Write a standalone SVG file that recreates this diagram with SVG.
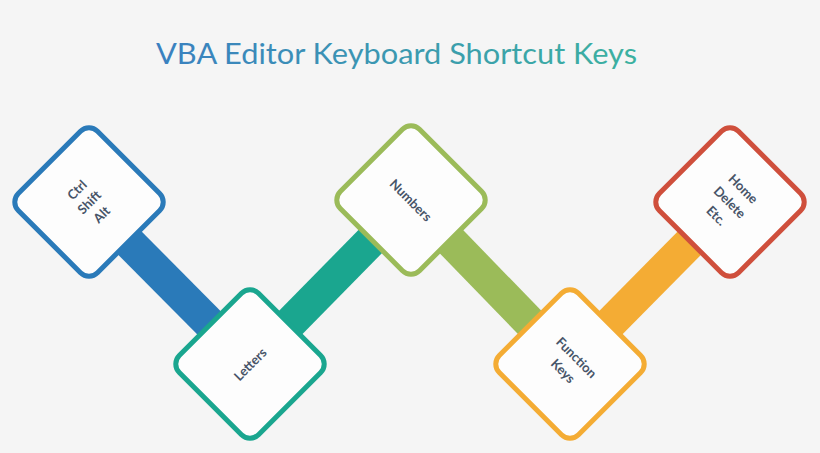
<svg xmlns="http://www.w3.org/2000/svg" width="820" height="453" viewBox="0 0 820 453">
  <defs>
    <linearGradient id="tg" gradientUnits="userSpaceOnUse" x1="156" y1="0" x2="637" y2="0">
      <stop offset="0" stop-color="#3a80c0"/>
      <stop offset="1" stop-color="#3cb1a0"/>
    </linearGradient>
    <style>
      .bar { stroke-width: 33; stroke-linecap: butt; fill: none; }
      .box { fill: #fdfdfd; stroke-width: 5; }
      .lbl { font-family: Lato, "Liberation Sans", sans-serif; font-weight: bold; font-size: 13px; fill: #475468; text-anchor: middle; dominant-baseline: central; }
    </style>
  </defs>
  <rect width="820" height="453" fill="#f5f5f5"/>
  <text x="156" y="64" font-family="Lato, 'Liberation Sans', sans-serif" font-size="29" fill="url(#tg)" textLength="481" lengthAdjust="spacingAndGlyphs">VBA Editor Keyboard Shortcut Keys</text>

  <g id="connectors">
    <line class="bar" x1="89" y1="202" x2="250" y2="364" stroke="#2a7ab9"/>
    <line class="bar" x1="250" y1="364" x2="411" y2="200" stroke="#1aa68f"/>
    <line class="bar" x1="411" y1="200" x2="570" y2="364" stroke="#9bbb59"/>
    <line class="bar" x1="570" y1="364" x2="730" y2="202" stroke="#f4ac34"/>
  </g>

  <g id="node-ctrl" transform="translate(89,202)">
    <rect class="box" x="-56" y="-56" width="112" height="112" rx="12" transform="rotate(45)" stroke="#2a7ab9"/>
    <g transform="rotate(-45)">
      <text class="lbl" x="0" y="-17.5">Ctrl</text>
      <text class="lbl" x="0" y="0">Shift</text>
      <text class="lbl" x="0" y="17.5">Alt</text>
    </g>
  </g>

  <g id="node-letters" transform="translate(250,364)">
    <rect class="box" x="-56" y="-56" width="112" height="112" rx="12" transform="rotate(45)" stroke="#1aa68f"/>
    <text class="lbl" x="0" y="0" transform="rotate(-45)">Letters</text>
  </g>

  <g id="node-numbers" transform="translate(411,200)">
    <rect class="box" x="-56" y="-56" width="112" height="112" rx="12" transform="rotate(45)" stroke="#9bbb59"/>
    <text class="lbl" x="0" y="0" transform="rotate(45)">Numbers</text>
  </g>

  <g id="node-function" transform="translate(570,364)">
    <rect class="box" x="-56" y="-56" width="112" height="112" rx="12" transform="rotate(45)" stroke="#f4ac34"/>
    <g transform="rotate(45)">
      <text class="lbl" x="0" y="-9.5">Function</text>
      <text class="lbl" x="0" y="9.5">Keys</text>
    </g>
  </g>

  <g id="node-home" transform="translate(730,202)">
    <rect class="box" x="-56" y="-56" width="112" height="112" rx="12" transform="rotate(45)" stroke="#cf4f3c"/>
    <g transform="rotate(45)">
      <text class="lbl" x="0" y="-19">Home</text>
      <text class="lbl" x="0" y="0">Delete</text>
      <text class="lbl" x="0" y="19">Etc.</text>
    </g>
  </g>
</svg>
